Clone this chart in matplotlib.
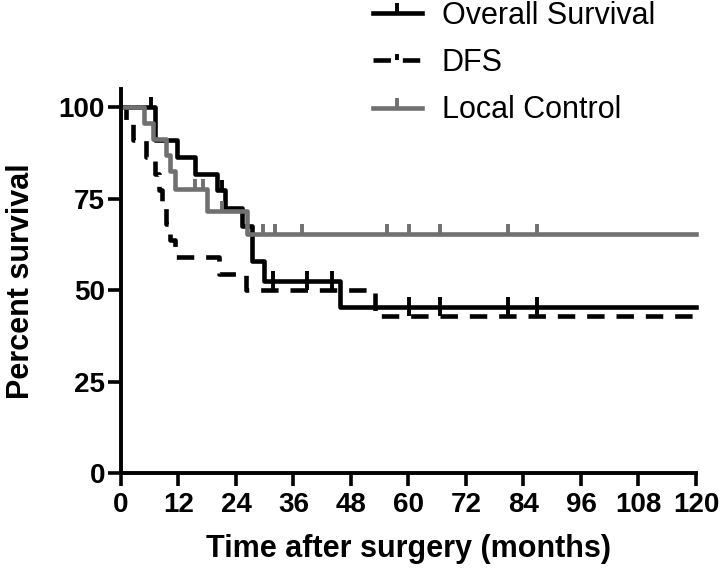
import matplotlib
matplotlib.use('Agg')
import matplotlib.pyplot as plt
import numpy as np
from matplotlib.lines import Line2D

plt.rcParams['font.family'] = ['Liberation Sans', 'DejaVu Sans']

# Kaplan-Meier step data (months, percent)
os_times = [0, 7.2, 11.7, 15.4, 20.0, 21.7, 25.3, 27.4, 29.8, 45.7, 120]
os_surv = [100, 90.9, 86.4, 81.8, 77.3, 72.4, 67.6, 57.9, 52.5, 45.5, 45.5]
os_censor = [6.2, 21.0, 31.8, 38.8, 44.0, 60.2, 66.6, 80.7, 86.9]

dfs_times = [0, 1.0, 2.5, 5.2, 7.0, 8.0, 8.6, 9.5, 10.2, 11.2, 20.5, 26.0, 53.0, 120]
dfs_surv = [100, 95.5, 90.9, 86.4, 81.8, 77.3, 72.7, 68.2, 63.6, 59.1, 54.5, 50.0, 42.9, 42.9]
dfs_censor = [31.8, 38.8, 44.0, 60.2, 66.6, 80.7, 86.9]

lc_times = [0, 4.8, 6.7, 9.3, 10.2, 11.3, 17.9, 26.4, 120]
lc_surv = [100, 95.7, 91.3, 87.0, 82.6, 77.5, 71.5, 65.2, 65.2]
lc_censor = [15.4, 17.1, 21.0, 29.7, 32.2, 37.7, 55.5, 60.2, 66.6, 80.7, 86.9]

labels = ["Overall Survival", "DFS", "Local Control"]
x_ticks = np.arange(0, 121, 12)
y_ticks = [0, 25, 50, 75, 100]

GREY = '#707070'
LW = 3.3


def level_at(times, surv, t):
    # value of the step curve at censoring times
    idx = np.searchsorted(times, t, side='right') - 1
    return np.asarray(surv)[idx]


fig = plt.figure(figsize=(7.2, 5.75), dpi=100)
ax = fig.add_axes([0.168, 0.1774, 0.7986, 0.668])

# DFS (dashed), then OS, then local control on top
ax.step(dfs_times, dfs_surv, where='post', color='black', lw=LW,
        dashes=(3.8, 2.6), clip_on=False)
ax.plot(dfs_censor, level_at(dfs_times, dfs_surv, dfs_censor), ls='none',
        marker=2, ms=7, mew=2.8, color='black', clip_on=False)

ax.step(os_times, os_surv, where='post', color='black', lw=LW, clip_on=False)
ax.plot(os_censor, level_at(os_times, os_surv, os_censor), ls='none',
        marker=2, ms=7, mew=2.8, color='black', clip_on=False)

ax.step(lc_times, lc_surv, where='post', color=GREY, lw=LW, clip_on=False)
ax.plot(lc_censor, level_at(lc_times, lc_surv, lc_censor), ls='none',
        marker=2, ms=7, mew=2.8, color=GREY, clip_on=False)

ax.set_xlim(0, 120)
ax.set_ylim(0, 105)
ax.set_xticks(x_ticks)
ax.set_yticks(y_ticks)
for lab in ax.get_xticklabels() + ax.get_yticklabels():
    lab.set_fontweight('bold')
ax.tick_params(axis='both', labelsize=20, length=9.5, width=2.6, direction='out')
ax.tick_params(axis='y', pad=2)
ax.tick_params(axis='x', pad=4)

for s in ['top', 'right']:
    ax.spines[s].set_visible(False)
for s in ['left', 'bottom']:
    ax.spines[s].set_linewidth(2.8)

ax.set_xlabel("Time after surgery (months)", fontsize=22, fontweight='bold')
ax.set_ylabel("Percent survival", fontsize=22, fontweight='bold')
ax.xaxis.set_label_coords(0.5, -0.16)
ax.yaxis.set_label_coords(-0.148, 0.5)

handles = [
    Line2D([], [], color='black', lw=LW, marker=2, ms=7, mew=2.8),
    Line2D([], [], color='black', lw=LW, dashes=(3.8, 2.6), marker=2, ms=4, mew=2.8),
    Line2D([], [], color=GREY, lw=LW, marker=2, ms=7, mew=2.8),
]
fig.legend(handles, labels, loc='upper left', bbox_to_anchor=(373 / 720, 1 - 1 / 575),
           frameon=False, fontsize=22, handlelength=1.6, handletextpad=0.65,
           labelspacing=0.56, borderpad=0, borderaxespad=0, numpoints=1)

fig.savefig('out.png', dpi=100)
